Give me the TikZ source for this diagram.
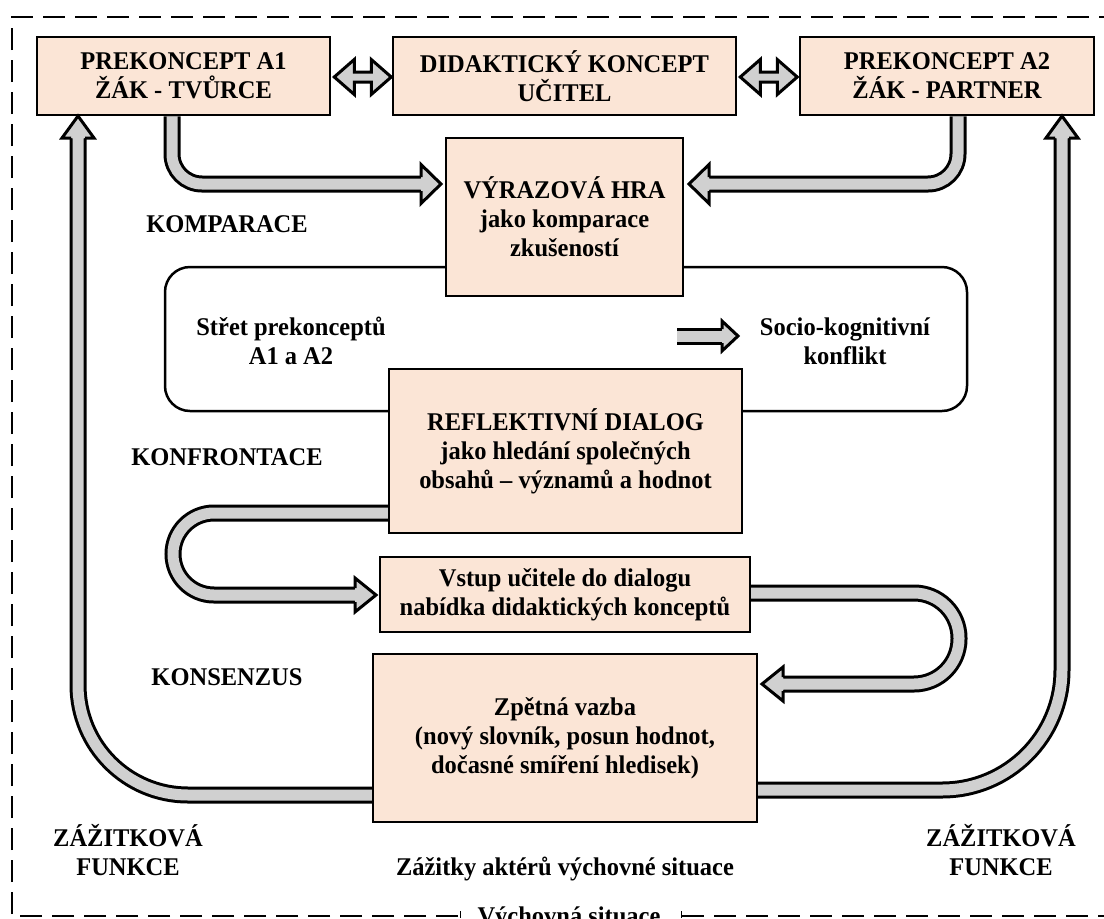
\documentclass[tikz,border=0pt]{standalone}
\usepackage{fontspec}
\setmainfont{Liberation Serif}[FakeStretch=0.96]
\usetikzlibrary{calc}
\definecolor{peach}{HTML}{FBE5D6}
\definecolor{agray}{HTML}{D0D0D0}
\tikzset{
  box/.style={draw=black, line width=2.5pt, fill=peach, align=center,
    font=\bfseries\fontsize{25.5}{29}\selectfont, inner sep=0pt},
  lbl/.style={align=center, font=\bfseries\fontsize{25.5}{29}\selectfont, inner sep=0pt},
  shaftout/.style={draw=black, line width=17pt},
  shaftin/.style={draw=agray, line width=11pt},
  aline/.style={draw=black, line width=3pt, line join=miter},
  border/.style={draw=black, line width=2.5pt, dash pattern=on 22pt off 10pt},
}
% arrow head: base centre (x,y), angle, length, half width
\newcommand\ahead[5]{%
  \begin{scope}[shift={(#1,#2)},rotate=#3]
    \fill[agray] (-0.5,-5.5) -- (0,-5.5) -- (0,-#5) -- (#4,0) -- (0,#5) -- (0,5.5) -- (-0.5,5.5) -- cycle;
    \draw[aline] (0,-7) -- (0,-#5) -- (#4,0) -- (0,#5) -- (0,7);
  \end{scope}}
\newcommand\shaft[2][]{%
  \draw[shaftout,#1] #2;
  \draw[shaftin,#1] #2;}
\begin{document}
\begin{tikzpicture}[x=1pt,y=-1pt]
\useasboundingbox (0,0) rectangle (1104,919);
\clip (0,0) rectangle (1104,919);
\fill[white] (0,0) rectangle (1104,919);

% outer dashed frame
\draw[border] (458,916) -- (12,916) -- (12,17) -- (1115,17);
\draw[border] (682,916) -- (1115,916);
\draw[line width=1pt] (460,911) -- (460,918) (681,911) -- (681,918);

% conflict frame
\node[draw=black, line width=2.5pt, rounded corners=25pt, fill=white,
      minimum width=802pt, minimum height=144pt, inner sep=0pt] (conf) at (566,339) {};

\path (183.5,76) coordinate (pa1) (564.5,76) coordinate (pdid) (947,76) coordinate (pa2)
      (564.5,217) coordinate (pvyr) (565.5,451) coordinate (pref)
      (565,594.5) coordinate (pvst) (565,738) coordinate (pzp);
\node[box, minimum width=293pt, minimum height=78pt] (a1) at (pa1) {PREKONCEPT A1\\ŽÁK - TVŮRCE};
\node[box, minimum width=343pt, minimum height=78pt] (did) at (pdid) {DIDAKTICKÝ KONCEPT\\UČITEL};
\node[box, minimum width=294pt, minimum height=78pt] (a2) at (pa2) {PREKONCEPT A2\\ŽÁK - PARTNER};

% arrows A1 / A2 -> hra
\shaft[rounded corners=30pt]{(a1.south -| 172,0) -- (172,184) -- (422,184)}
\ahead{421}{184}{0}{20}{19.5}
\shaft[rounded corners=30pt]{(a2.south -| 958,0) -- (958,184) -- (708,184)}
\ahead{709}{184}{180}{20}{19.5}

% double arrows in top row
\draw[aline, fill=agray] (a1.east |- 0,77) ++(3,0) -- ++(20,-17.5) -- ++(0,12.5) -- ++(17,0) -- ++(0,-12.5)
  -- ++(20,17.5) -- ++(-20,17.5) -- ++(0,-12.5) -- ++(-17,0) -- ++(0,12.5) -- cycle;
\draw[aline, fill=agray] (did.east |- 0,77) ++(3,0) -- ++(20,-17.5) -- ++(0,12.5) -- ++(17,0) -- ++(0,-12.5)
  -- ++(20,17.5) -- ++(-20,17.5) -- ++(0,-12.5) -- ++(-17,0) -- ++(0,12.5) -- cycle;

\node[box, minimum width=237pt, minimum height=158pt] (vyr) at (pvyr) {VÝRAZOVÁ HRA\\jako komparace\\zkušeností};
\node[box, minimum width=353pt, minimum height=164pt] (ref) at (pref) {REFLEKTIVNÍ DIALOG\\jako hledání společných\\obsahů – významů a hodnot};

% conflict texts
\node[lbl] (stret) at (291,341) {Střet prekonceptů\\A1 a A2};
\node[lbl] (socio) at (845,341) {Socio-kognitivní\\konflikt};
\shaft{(677,336) -- (723,336)}
\ahead{722}{336}{0}{16}{15}

% U-turn arrows
\shaft[rounded corners=41pt]{(ref.west |- 0,513) -- (173,513) -- (173,595) -- (356,595)}
\ahead{355}{595}{0}{21}{17}
\shaft[rounded corners=45pt]{(750,593) -- (959,593) -- (959,684) -- (782,684)}
\ahead{783}{684}{180}{21}{17}

% long return arrows
\shaft[rounded corners=110pt]{(373,795) -- (78,795) -- (78,137)}
\ahead{78}{138}{90}{22}{16}
\shaft[rounded corners=120pt]{(757,790) -- (1062,790) -- (1062,137)}
\ahead{1062}{138}{90}{22}{16}

\node[box, minimum width=370pt, minimum height=75pt] (vst) at (pvst) {Vstup učitele do dialogu\\nabídka didaktických konceptů};
\node[box, minimum width=384pt, minimum height=168pt] (zp) at (pzp) {Zpětná vazba\\(nový slovník, posun hodnot,\\dočasné smíření hledisek)};

% side labels
\node[lbl] (komp) at (227,224) {KOMPARACE};
\node[lbl] (konf) at (227,457) {KONFRONTACE};
\node[lbl] (kons) at (227,677) {KONSENZUS};
\node[lbl] (zfl) at (128,850) {ZÁŽITKOVÁ\\FUNKCE};
\node[lbl] (zfr) at (1001,850) {ZÁŽITKOVÁ\\FUNKCE};
\node[lbl, anchor=base] (zaz) at (565,875) {Zážitky aktérů výchovné situace};
\node[lbl, anchor=base] (vych) at (569,924) {Výchovná situace};
\end{tikzpicture}
\end{document}
